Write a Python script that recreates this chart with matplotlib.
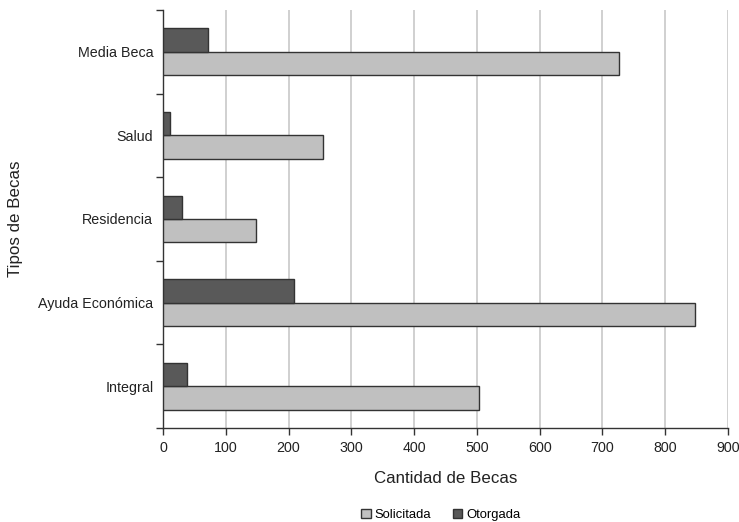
import matplotlib
matplotlib.use("Agg")
import matplotlib.pyplot as plt
import numpy as np

categories = ["Integral", "Ayuda Económica", "Residencia", "Salud", "Media Beca"]
solicitada = [504, 847, 148, 255, 726]
otorgada = [38, 209, 30, 11, 72]
xticks = [0, 100, 200, 300, 400, 500, 600, 700, 800, 900]

plt.rcParams['font.family'] = ['Liberation Sans', 'DejaVu Sans']

fig = plt.figure(figsize=(7.39, 5.22), dpi=100)
ax = fig.add_axes([163/739, 1-428/522, (728-163)/739, (428-10)/522])

y = np.arange(len(categories))
h = 0.28
ax.barh(y - h/2, solicitada, height=h, color='#c0c0c0', edgecolor='#333333', linewidth=1.0, label='Solicitada', zorder=3)
ax.barh(y + h/2, otorgada, height=h, color='#595959', edgecolor='#333333', linewidth=1.0, label='Otorgada', zorder=3)

ax.set_xlim(0, 900)
ax.set_ylim(-0.5, len(categories) - 0.5)
ax.set_xticks(xticks)
ax.set_xticklabels([str(t) for t in xticks], fontsize=10.3, color='#222222')
ax.set_yticks(y)
ax.set_yticklabels(categories, fontsize=10.3, color='#222222')
ax.tick_params(axis='y', length=0, pad=7)
ax.set_yticks(np.arange(-0.5, len(categories), 1), minor=True)
ax.tick_params(axis='y', which='minor', length=5, width=1, color='#333333')
ax.tick_params(axis='x', length=5, width=1, color='#333333', pad=4)

ax.grid(axis='x', color='#c8c8c8', linewidth=1.2, zorder=0)
ax.set_axisbelow(True)
for s in ['top', 'right']:
    ax.spines[s].set_visible(False)
for s in ['left', 'bottom']:
    ax.spines[s].set_color('#333333')
    ax.spines[s].set_linewidth(1.0)

ax.set_xlabel("Cantidad de Becas", fontsize=12.2, color='#222222', labelpad=12)
ax.set_ylabel("Tipos de Becas", fontsize=12.2, color='#222222')
ax.yaxis.set_label_coords(-(163-23)/565, 0.5)

handles, labels = ax.get_legend_handles_labels()
fig.legend(handles, labels, loc='center', bbox_to_anchor=(441/739, 1-515/522), ncol=2,
           frameon=False, fontsize=9.4, handlelength=0.7, handleheight=0.7,
           columnspacing=1.7, handletextpad=0.3)

fig.savefig("out.png", dpi=100)
